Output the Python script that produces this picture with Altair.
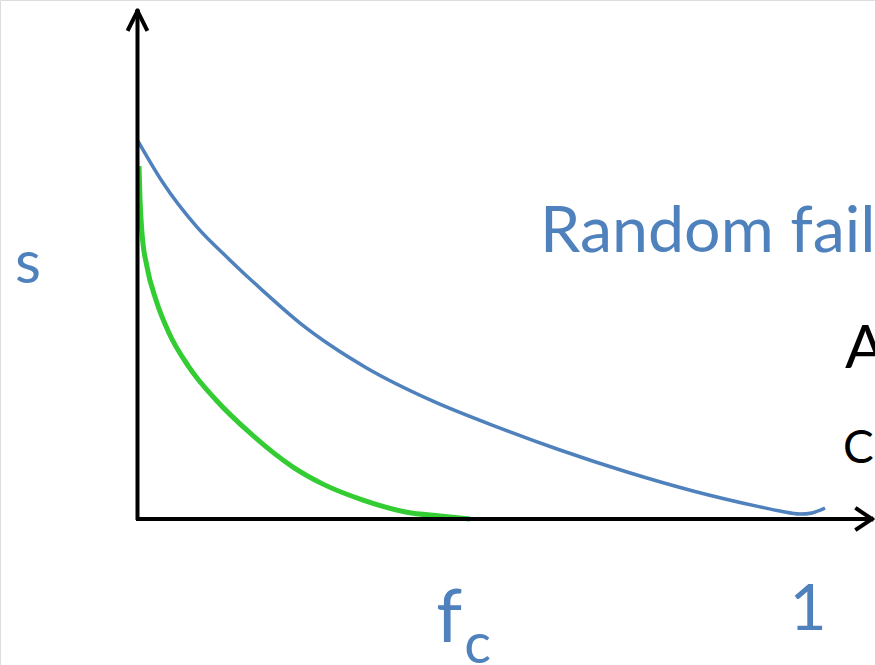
import altair as alt
import pandas as pd

# Fraction of removed nodes f and giant-component size s
random_f = [0.0015, 0.0386, 0.0892, 0.1382, 0.1872, 0.2422, 0.2868, 0.3418, 0.4398,
            0.5394, 0.6285, 0.7281, 0.8262, 0.9257, 0.9554, 0.9851, 1.0030, 1.0223]
random_s = [0.997, 0.887, 0.770, 0.683, 0.602, 0.517, 0.459, 0.398, 0.311,
            0.240, 0.182, 0.124, 0.074, 0.032, 0.021, 0.013, 0.016, 0.029]

attack_f = [0.003, 0.0045, 0.0074, 0.0149, 0.0282, 0.0475, 0.0773, 0.1174, 0.1679,
            0.2318, 0.2764, 0.3358, 0.4012, 0.4502, 0.4948]
attack_s = [0.931, 0.842, 0.755, 0.665, 0.578, 0.491, 0.401, 0.314, 0.227,
            0.137, 0.092, 0.050, 0.018, 0.008, 0.0]

f_c = 0.495
f_end = 1.0

BLUE = "#4F81BD"
GREEN = "#33CC33"
FONT = "Lato"

W, H = 875, 665
x_scale = alt.Scale(domain=[-137 / 673, 738 / 673], nice=False, zero=False)
y_scale = alt.Scale(domain=[-146 / 379, 519 / 379], nice=False, zero=False)

random_df = pd.DataFrame({"f": random_f, "s": random_s})
attack_df = pd.DataFrame({"f": attack_f, "s": attack_s})

X = alt.X("f:Q", scale=x_scale, axis=None)
Y = alt.Y("s:Q", scale=y_scale, axis=None)

random_line = alt.Chart(random_df).mark_line(
    color=BLUE, strokeWidth=3.5, interpolate="monotone"
).encode(x=X, y=Y)

attack_line = alt.Chart(attack_df).mark_line(
    color=GREEN, strokeWidth=5, interpolate="monotone"
).encode(x=X, y=Y)

# Axes drawn as arrows
base = alt.Chart(pd.DataFrame({"k": [0]}))
axis_style = dict(color="black", strokeWidth=4)
y_axis = base.mark_rule(**axis_style).encode(
    x=alt.value(137.5), y=alt.value(11), y2=alt.value(520))
x_axis = base.mark_rule(**axis_style).encode(
    x=alt.value(136), x2=alt.value(872), y=alt.value(519))
y_head_l = base.mark_rule(**axis_style, strokeCap="square").encode(
    x=alt.value(128.5), x2=alt.value(137.5), y=alt.value(29), y2=alt.value(11))
y_head_r = base.mark_rule(**axis_style, strokeCap="square").encode(
    x=alt.value(146.5), x2=alt.value(137.5), y=alt.value(29), y2=alt.value(11))
x_head_u = base.mark_rule(**axis_style, strokeCap="square").encode(
    x=alt.value(857), x2=alt.value(872), y=alt.value(509), y2=alt.value(519))
x_head_d = base.mark_rule(**axis_style, strokeCap="square").encode(
    x=alt.value(857), x2=alt.value(872), y=alt.value(529), y2=alt.value(519))

def label(text, x, y, size, color, align="left"):
    return base.mark_text(
        text=text, font=FONT, fontSize=size, color=color,
        align=align, baseline="alphabetic"
    ).encode(x=x, y=y)

s_label = label("s", alt.value(15), alt.value(283), 60, BLUE)
random_label = label("Random fail", alt.value(540), alt.value(252), 64.5, BLUE)
a_label = label("A", alt.value(845), alt.value(368), 60, "black")
c_label = label("C", alt.value(843), alt.value(463), 46, "black")

tick_df = pd.DataFrame({"f": [f_end]})
one_label = alt.Chart(tick_df).mark_text(
    text="1", font=FONT, fontSize=64, color=BLUE, align="center",
    baseline="alphabetic", dx=-2
).encode(x=X, y=alt.value(630))

fc_df = pd.DataFrame({"f": [f_c]})
f_label = alt.Chart(fc_df).mark_text(
    text="f", font=FONT, fontSize=74, color=BLUE, align="right",
    baseline="alphabetic", dx=-8
).encode(x=X, y=alt.value(642))
c_sub = alt.Chart(fc_df).mark_text(
    text="c", font=FONT, fontSize=56, color=BLUE, align="left",
    baseline="alphabetic", dx=-6
).encode(x=X, y=alt.value(663))

chart = alt.layer(
    random_line, attack_line,
    y_axis, x_axis, y_head_l, y_head_r, x_head_u, x_head_d,
    s_label, random_label, a_label, c_label, one_label, f_label, c_sub,
).properties(
    width=W, height=H, padding=0, autosize=alt.AutoSizeParams(type="none")
).configure_view(stroke=None).configure(background="white")

chart.save("out.html", embed_options={"renderer": "svg", "actions": False})
